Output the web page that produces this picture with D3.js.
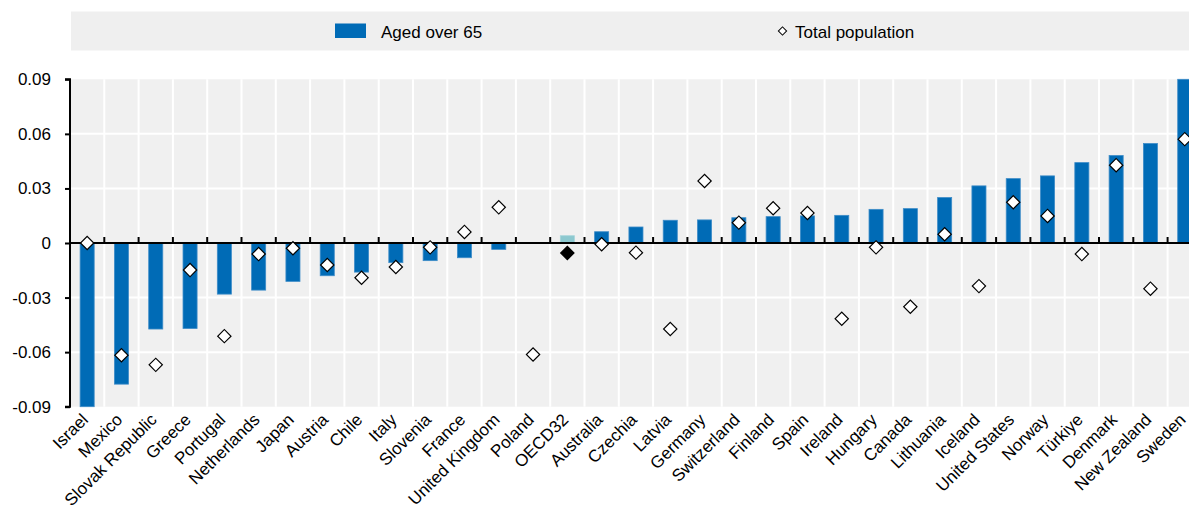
<!DOCTYPE html>
<html>
<head>
<meta charset="utf-8">
<script src="https://cdn.jsdelivr.net/npm/d3@7"></script>
<style>
  html, body { margin: 0; padding: 0; background: #fff; overflow: hidden; }
  svg { display: block; font-family: "Liberation Sans", Arial, sans-serif; }
</style>
</head>
<body>
<svg id="chart" width="1189" height="511"></svg>
<script>
const categories = ["Israel","Mexico","Slovak Republic","Greece","Portugal","Netherlands","Japan","Austria","Chile","Italy","Slovenia","France","United Kingdom","Poland","OECD32","Australia","Czechia","Latvia","Germany","Switzerland","Finland","Spain","Ireland","Hungary","Canada","Lithuania","Iceland","United States","Norway","Türkiye","Denmark","New Zealand","Sweden"];
const agedOver65 = [-0.093,-0.0776,-0.0473,-0.047,-0.0281,-0.0259,-0.0211,-0.018,-0.016,-0.0108,-0.0097,-0.0081,-0.0035,0,0.004,0.0062,0.0088,0.0125,0.0127,0.0139,0.0145,0.0149,0.0152,0.0185,0.0189,0.025,0.0314,0.0354,0.0369,0.0442,0.0481,0.0547,0.093];
const totalPopulation = [0,-0.0617,-0.067,-0.0149,-0.0512,-0.0061,-0.0029,-0.0121,-0.0191,-0.0132,-0.0024,0.0061,0.0196,-0.0613,-0.0055,-0.0007,-0.0053,-0.0473,0.0341,0.0112,0.0191,0.0165,-0.0416,-0.0024,-0.035,0.0048,-0.0237,0.0224,0.0149,-0.0061,0.0428,-0.0251,0.0571];
const yTicks = [-0.09,-0.06,-0.03,0,0.03,0.06,0.09];
const yTickLabels = ["-0.09","-0.06","-0.03","0","0.03","0.06","0.09"];
const seriesNames = ["Aged over 65","Total population"];
const highlight = "OECD32";

const svg = d3.select("#chart");
const pLeft = 70, step = 34.3;
const pRight = pLeft + step * categories.length;
const pTop = 79.3, pBottom = 406.7;

const x = d3.scaleBand().domain(categories).range([pLeft, pRight]).padding(0);
const y = d3.scaleLinear().domain([-0.09, 0.09]).range([pBottom, pTop]).clamp(true);

// legend
const lg = svg.append("g");
lg.append("rect").attr("x", 71).attr("y", 11.5).attr("width", 1189 - 71).attr("height", 39).attr("fill", "#efefef");
lg.append("rect").attr("x", 335).attr("y", 23.5).attr("width", 31).attr("height", 14.5).attr("fill", "#006bb6");
lg.append("text").attr("x", 381).attr("y", 37.5).attr("font-size", 17).attr("fill", "#000").text(seriesNames[0]);
lg.append("path").attr("d", d3.symbol(d3.symbolSquare, 34)()).attr("transform", "translate(782.5,31) rotate(45)")
  .attr("fill", "#fff").attr("stroke", "#000").attr("stroke-width", 1);
lg.append("text").attr("x", 795).attr("y", 37.5).attr("font-size", 17).attr("fill", "#000").text(seriesNames[1]);

// plot background
svg.append("rect").attr("x", pLeft).attr("y", pTop).attr("width", pRight - pLeft).attr("height", pBottom - pTop).attr("fill", "#f0f0f0");

// gridlines
const grid = svg.append("g");
grid.append("g").selectAll("line").data(yTicks.filter(t => t !== 0 && Math.abs(t) < 0.09)).join("line")
  .attr("x1", pLeft).attr("x2", pRight).attr("y1", d => y(d)).attr("y2", d => y(d))
  .attr("stroke", "#fff").attr("stroke-width", 2);
grid.append("g").selectAll("line").data(categories.slice(1)).join("line")
  .attr("x1", d => x(d)).attr("x2", d => x(d)).attr("y1", pTop).attr("y2", pBottom)
  .attr("stroke", "#fff").attr("stroke-width", 2);

// bars
const bw = x.bandwidth() * 0.41;
svg.append("g").selectAll("rect").data(categories).join("rect")
  .attr("x", d => x(d) + x.bandwidth() / 2 - bw / 2)
  .attr("width", bw)
  .attr("y", (d, i) => Math.min(y(agedOver65[i]), y(0)))
  .attr("height", (d, i) => Math.abs(y(agedOver65[i]) - y(0)))
  .attr("fill", d => d === highlight ? "#8cc8cf" : "#006bb6")
  .attr("stroke", d => d === highlight ? "#a6d4da" : "#3d8cc8")
  .attr("stroke-width", 0.8);

// zero line and x ticks
svg.append("line").attr("x1", pLeft).attr("x2", pRight).attr("y1", y(0)).attr("y2", y(0)).attr("stroke", "#000").attr("stroke-width", 2);
svg.append("g").selectAll("line").data(categories.slice(1)).join("line")
  .attr("x1", d => x(d)).attr("x2", d => x(d)).attr("y1", y(0)).attr("y2", y(0) - 6)
  .attr("stroke", "#000").attr("stroke-width", 2);

// y axis
const yAxis = d3.axisLeft(y).tickValues(yTicks).tickSize(5).tickFormat((d, i) => yTickLabels[i]);
const ya = svg.append("g").attr("transform", `translate(${pLeft},0)`).call(yAxis);
ya.select(".domain").attr("stroke", "#000").attr("stroke-width", 2).attr("d", `M-5,${pTop}H0V${pBottom}H-5`);
ya.selectAll(".tick line").attr("stroke", "#000").attr("stroke-width", 2);
ya.selectAll(".tick text").attr("x", -19).attr("font-size", 17).attr("fill", "#000")
  .attr("font-family", "Liberation Sans, Arial, sans-serif");

// diamonds
svg.append("g").selectAll("path").data(categories).join("path")
  .attr("d", d3.symbol(d3.symbolSquare, 88)())
  .attr("transform", (d, i) => `translate(${x(d) + x.bandwidth() / 2},${y(totalPopulation[i])}) rotate(45)`)
  .attr("fill", d => d === highlight ? "#000" : "#fff")
  .attr("stroke", "#000").attr("stroke-width", 1.2);

// x labels
svg.append("g").selectAll("text").data(categories).join("text")
  .attr("transform", d => `translate(${x(d) + x.bandwidth() / 2 + 2},${pBottom + 14}) rotate(-45)`)
  .attr("text-anchor", "end")
  .attr("font-size", 17)
  .attr("fill", "#000")
  .text(d => d);
</script>
</body>
</html>
